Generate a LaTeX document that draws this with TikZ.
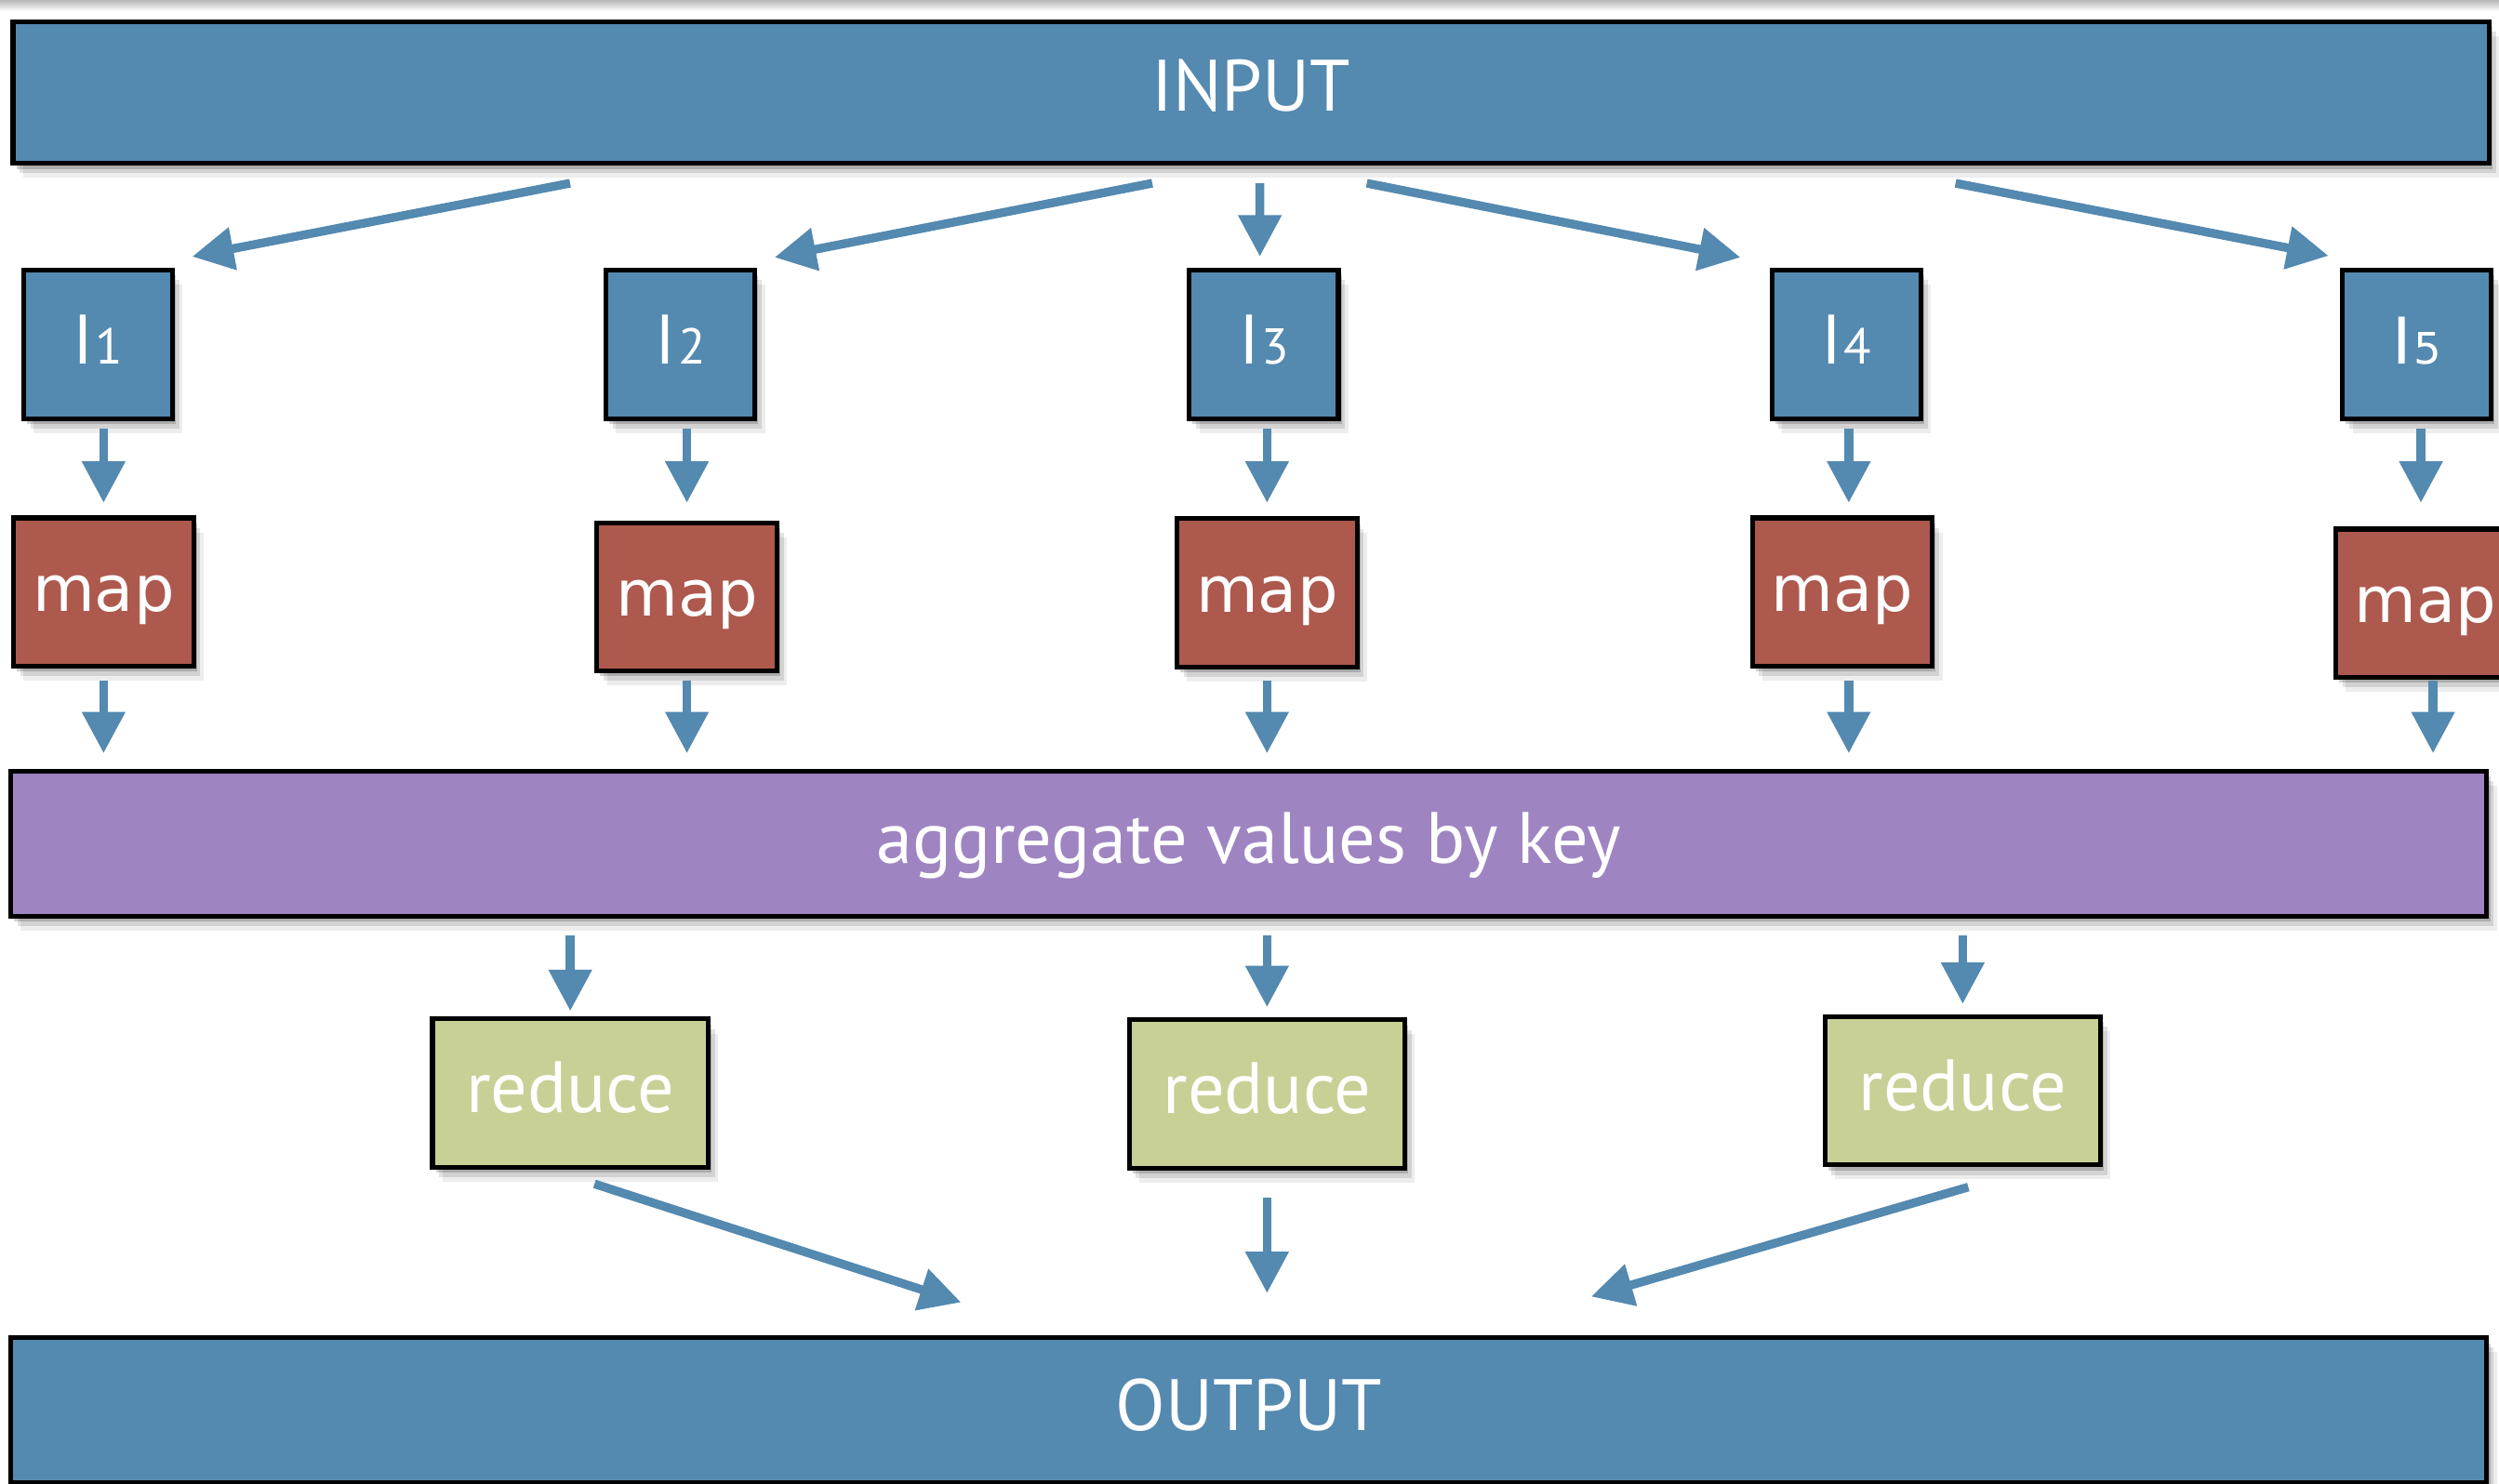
\documentclass[tikz,border=0pt]{standalone}
\usepackage{fontspec}
\usepackage{graphicx}
\setmainfont{PT Sans}
\newfontfamily\mapfont{DejaVu Sans}
\usetikzlibrary{arrows.meta,shadows,calc}
\definecolor{inblue}{RGB}{84,137,176}
\definecolor{mapred}{RGB}{173,89,78}
\definecolor{aggpurple}{RGB}{158,133,194}
\definecolor{redgreen}{RGB}{201,208,150}
% text placed with its baseline a fixed distance below the box centre
\newcommand{\bl}[2]{\raisebox{#1}[0pt][0pt]{#2}}
\newcommand{\Ilab}[1]{\bl{-7.1pt}{I\kern0.8pt{\fontsize{18pt}{20pt}\selectfont #1}}}
\tikzset{
  softshadow/.style={
    general shadow={shadow xshift=1.2pt,shadow yshift=-2pt,fill=black,opacity=0.18},
    general shadow={shadow xshift=2.4pt,shadow yshift=-3.6pt,fill=black,opacity=0.11},
    general shadow={shadow xshift=3.6pt,shadow yshift=-5.2pt,fill=black,opacity=0.07}},
  box/.style={draw=black, line width=1.7pt, inner sep=0pt, text=white, softshadow},
  bigbox/.style={box, minimum width=31.08cm, minimum height=1.82cm, font=\fontsize{26pt}{30pt}\selectfont},
  ibox/.style={box, fill=inblue, minimum width=1.87cm, minimum height=1.87cm, font=\fontsize{25pt}{28pt}\selectfont},
  mapbox/.style={box, fill=mapred, minimum width=2.26cm, minimum height=1.86cm, font=\mapfont\fontsize{22.8pt}{26pt}\selectfont},
  redbox/.style={box, fill=redgreen, minimum width=3.46cm, minimum height=1.86cm, font=\fontsize{26pt}{30pt}\selectfont},
  arr/.style={draw=inblue, line width=3.1pt, -{Triangle[length=14.8pt,width=14.8pt]}}
}
\begin{document}
\begin{tikzpicture}[x=0.02cm,y=-0.02cm]
\useasboundingbox (0,0) rectangle (1568,931);
\fill[white] (0,0) rectangle (1568,931);
\shade[top color=black!28, bottom color=white] (0,0) rectangle (1568,7);
\clip (0,0) rectangle (1568,931);

% main boxes
\node[bigbox, fill=inblue, minimum height=1.78cm] (input) at (785,58) {\bl{-6.8pt}{INPUT}};
\node[bigbox, fill=aggpurple] (agg) at (783.5,529.5) {\bl{-6.9pt}{aggregate values by key}};
\node[bigbox, fill=inblue] (output) at (783.5,885) {\bl{-7.2pt}{OUTPUT}};

% input splits
\node[ibox] (i1) at (61.5,216) {\Ilab{1}};
\node[ibox] (i2) at (427,216) {\Ilab{2}};
\node[ibox] (i3) at (793,216) {\Ilab{3}};
\node[ibox] (i4) at (1158.5,216) {\Ilab{4}};
\node[ibox, font=\mapfont\fontsize{23pt}{26pt}\selectfont] (i5) at (1516.5,216) {\bl{-7.1pt}{I\kern1pt{\fontsize{15.5pt}{18pt}\selectfont 5}}};

% map boxes
\node[mapbox] (m1) at (65,371.5) {\bl{-6.9pt}{map}};
\node[mapbox] (m2) at (431,374.5) {\bl{-6.9pt}{map}};
\node[mapbox] (m3) at (795,372) {\bl{-6.9pt}{map}};
\node[mapbox] (m4) at (1156,371.5) {\bl{-6.9pt}{map}};
\node[mapbox] (m5) at (1522,378.5) {\bl{-6.9pt}{map}};

% reduce boxes
\node[redbox] (r1) at (357.8,686) {\bl{-7.1pt}{reduce}};
\node[redbox] (r2) at (795,686.5) {\bl{-7.1pt}{reduce}};
\node[redbox] (r3) at (1231.5,684.5) {\bl{-7.1pt}{reduce}};

% INPUT -> splits
\draw[arr] ($(input.south)+(-427.3,11)$) -- ($(i1.north)+(59.1,-6.75)$);
\draw[arr] ($(input.south)+(-62,11)$) -- ($(i2.north)+(59,-6.25)$);
\draw[arr] ($(input.south)+(5.5,11)$) -- ($(i3.north)+(-2.5,-6.75)$);
\draw[arr] ($(input.south)+(72.6,11)$) -- ($(i4.north)+(-66.5,-6.25)$);
\draw[arr] ($(input.south)+(442,11)$) -- ($(i5.north)+(-55.5,-7.25)$);

% splits -> map
\draw[arr, shorten <=0.095cm, shorten >=0.16cm] (i1.south -| m1.north) -- (m1.north);
\draw[arr, shorten <=0.095cm, shorten >=0.22cm] (i2.south -| m2.north) -- (m2.north);
\draw[arr, shorten <=0.095cm, shorten >=0.17cm] (i3.south -| m3.north) -- (m3.north);
\draw[arr, shorten <=0.095cm, shorten >=0.16cm] ($(i4.south -| m4.north)+(4,0)$) -- ($(m4.north)+(4,0)$);
\draw[arr, shorten <=0.095cm, shorten >=0.30cm] ($(i5.south -| m5.north)+(-3,0)$) -- ($(m5.north)+(-3,0)$);

% map -> aggregate
\draw[arr, shorten <=0.15cm, shorten >=0.196cm] (m1.south) -- (m1.south |- agg.north);
\draw[arr, shorten <=0.09cm, shorten >=0.196cm] (m2.south) -- (m2.south |- agg.north);
\draw[arr, shorten <=0.14cm, shorten >=0.196cm] (m3.south) -- (m3.south |- agg.north);
\draw[arr, shorten <=0.15cm, shorten >=0.196cm] ($(m4.south)+(4,0)$) -- ($(m4.south |- agg.north)+(4,0)$);
\draw[arr, shorten <=0.01cm, shorten >=0.196cm] ($(m5.south)+(4.6,0)$) -- ($(m5.south |- agg.north)+(4.6,0)$);

% aggregate -> reduce
\draw[arr, shorten <=0.21cm, shorten >=0.07cm] (agg.south -| r1.north) -- (r1.north);
\draw[arr, shorten <=0.21cm, shorten >=0.13cm] (agg.south -| r2.north) -- (r2.north);
\draw[arr, shorten <=0.21cm, shorten >=0.13cm] (agg.south -| r3.north) -- (r3.north);

% reduce -> OUTPUT
\draw[arr] ($(r1.south)+(15.2,9)$) -- ($(output.north)+(-180.5,-20.7)$);
\draw[arr, shorten <=0.34cm, shorten >=0.53cm] (r2.south) -- (r2.south |- output.north);
\draw[arr] ($(r3.south)+(3.5,12.5)$) -- ($(output.north)+(214.9,-24.3)$);
\end{tikzpicture}
\end{document}
